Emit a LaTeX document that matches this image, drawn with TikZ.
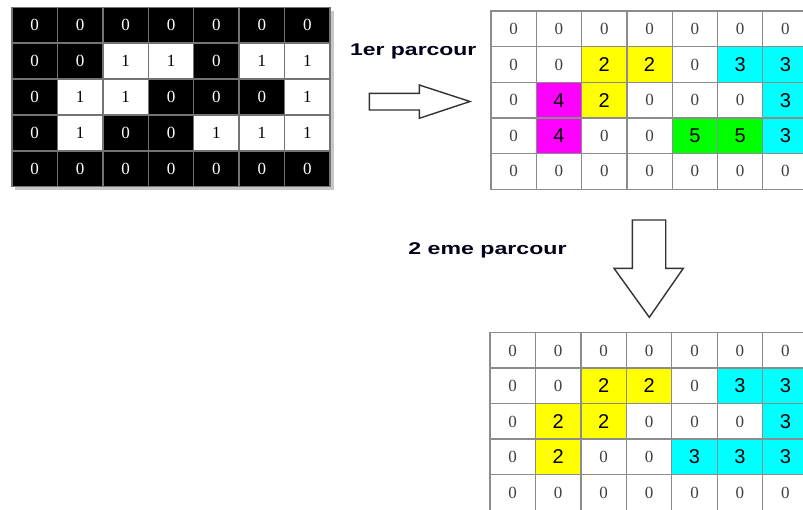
\documentclass[tikz,border=0pt]{standalone}
\usepackage{fontspec}
\setmainfont{Liberation Serif}
\newfontfamily\labelfont{Liberation Sans}
\usepackage{graphicx}

\definecolor{gridline}{HTML}{8C8C8C}
\definecolor{zerogray}{HTML}{404040}
\definecolor{lab2}{HTML}{FFFF00}
\definecolor{lab3}{HTML}{00FFFF}
\definecolor{lab4}{HTML}{FF00FF}
\definecolor{lab5}{HTML}{00FF00}

\begin{document}
\begin{tikzpicture}[x=1pt,y=-1pt,
  cell/.style={draw=gridline, line width=1.3pt, inner sep=0pt, outer sep=0pt,
    minimum width=45.4pt, minimum height=35.7pt},
  bitcell/.style={cell, draw=black!55, font=\fontsize{17}{17}\selectfont},
  zerocell/.style={cell, fill=white, text=zerogray, font=\fontsize{17}{17}\selectfont},
  labcell/.style={cell, fill=lab#1, text=black, font=\labelfont\fontsize{20}{20}\selectfont},
  passlabel/.style={anchor=base, text=black!90!blue, font=\labelfont\bfseries\fontsize{17}{17}\selectfont},
  blockarrow/.style={draw=black!80, line width=1.4pt, fill=white, line join=miter}]

\clip (0,0) rectangle (803,509);
\fill[white] (0,0) rectangle (803,509);

% binary image
\fill[black!22] (15,10.5) rectangle (333.5,190);
\foreach \row [count=\r] in {{0,0,0,0,0,0,0},{0,0,1,1,0,1,1},{0,1,1,0,0,0,1},{0,1,0,0,1,1,1},{0,0,0,0,0,0,0}}{
  \foreach \v [count=\c] in \row {
    \ifnum\v=0
      \node[bitcell, fill=black, text=white] (B-\r-\c) at ({12+(\c-0.5)*45.43},{7.3+(\r-0.5)*35.9}) {0};
    \else
      \node[bitcell, fill=white, text=black] (B-\r-\c) at ({12+(\c-0.5)*45.43},{7.3+(\r-0.5)*35.9}) {1};
    \fi
  }
}

% labels after the first pass
\foreach \row [count=\r] in {{0,0,0,0,0,0,0},{0,0,2,2,0,3,3},{0,4,2,0,0,0,3},{0,4,0,0,5,5,3},{0,0,0,0,0,0,0}}{
  \foreach \v [count=\c] in \row {
    \ifnum\v=0
      \node[zerocell] (P-\r-\c) at ({491+(\c-0.5)*45.3},{11+(\r-0.5)*35.65}) {0};
    \else
      \node[labcell=\v] (P-\r-\c) at ({491+(\c-0.5)*45.3},{11+(\r-0.5)*35.65}) {\v};
    \fi
  }
}

% labels after the second pass
\foreach \row [count=\r] in {{0,0,0,0,0,0,0},{0,0,2,2,0,3,3},{0,2,2,0,0,0,3},{0,2,0,0,3,3,3},{0,0,0,0,0,0,0}}{
  \foreach \v [count=\c] in \row {
    \ifnum\v=0
      \node[zerocell] (S-\r-\c) at ({490+(\c-0.5)*45.45},{332.7+(\r-0.5)*35.5}) {0};
    \else
      \node[labcell=\v] (S-\r-\c) at ({490+(\c-0.5)*45.45},{332.7+(\r-0.5)*35.5}) {\v};
    \fi
  }
}

% pass captions
\node[passlabel] (first) at (413.3,55.5) {\scalebox{1.35}[1]{1er parcour}};
\node[passlabel] (second) at (487.5,254.5) {\scalebox{1.36}[1]{2 eme parcour}};

% block arrows
\draw[blockarrow] (369.3,93.3) -- (419.3,93.3) -- (419.3,85) -- (470,101.5)
  -- (419.3,118.3) -- (419.3,110) -- (369.3,110) -- cycle;
\draw[blockarrow] (632.3,220) -- (665.7,220) -- (665.7,268.3) -- (683.3,268.3)
  -- (649.3,317.3) -- (614,268.3) -- (632.3,268.3) -- cycle;
\end{tikzpicture}
\end{document}
